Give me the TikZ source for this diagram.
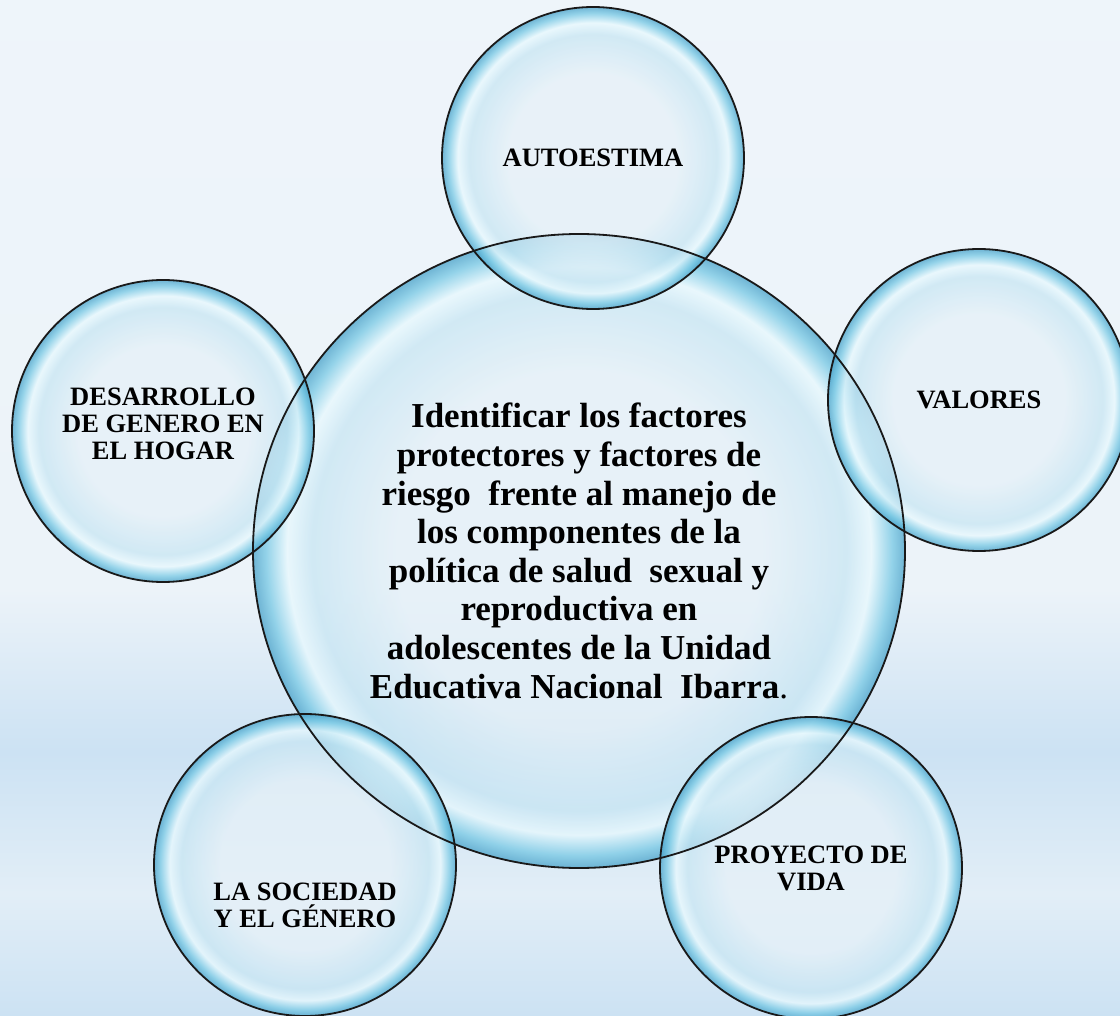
\documentclass[tikz,border=0pt]{standalone}
\usepackage{fontspec}
\setmainfont{Liberation Serif}
\usetikzlibrary{shapes.geometric}

\definecolor{bgtop}{RGB}{240,246,251}
\definecolor{bgup}{RGB}{236,243,249}
\definecolor{bgband}{RGB}{204,226,243}
\definecolor{bgmid}{RGB}{226,238,247}
\definecolor{bglow}{RGB}{234,242,249}
\definecolor{bgbot}{RGB}{242,247,251}
\definecolor{bubcore}{RGB}{230,241,248}
\definecolor{bubsoft}{RGB}{200,230,243}
\definecolor{bubhi}{RGB}{232,249,254}
\definecolor{bubrim}{RGB}{118,200,228}
\definecolor{bubedge}{RGB}{70,160,200}

\pgfdeclareverticalshading{backdrop}{100bp}{color(0bp)=(bgbot); color(19bp)=(bglow);
  color(25bp)=(bgband); color(31bp)=(bgmid); color(38bp)=(bgband); color(46bp)=(bgup);
  color(100bp)=(bgtop)}
% rim of the circle sits at 25bp of the shading
\pgfdeclareradialshading{bubble}{\pgfpointorigin}{color(0bp)=(bubcore); color(14bp)=(bubcore);
  color(20.5bp)=(bubsoft); color(22.4bp)=(bubhi); color(24bp)=(bubrim); color(25bp)=(bubedge);
  color(50bp)=(bubedge)}

\tikzset{
  bubblenode/.style={circle, shade, shading=bubble, fill opacity=.75,
    inner sep=0pt, minimum size=302pt},
  tag/.style={align=center, font=\fontsize{26.5}{27}\selectfont\bfseries},
  rim/.style={draw=black!90, line width=1.8pt}
}

\begin{document}
\begin{tikzpicture}[x=1pt,y=-1pt]
	\useasboundingbox (0,0) rectangle (1120,1016);
	% background
	\shade[shading=backdrop] (0,0) rectangle (1120,1016);

	% bubbles
	\node[ellipse, shade, shading=bubble, fill opacity=.75, inner sep=0pt,
	  minimum width=652pt, minimum height=634pt] (goal) at (579,551) {};
	\node[bubblenode] (auto) at (593,158) {};
	\node[bubblenode] (valores) at (979,400) {};
	\node[bubblenode] (hogar) at (163,431) {};
	\node[bubblenode] (sociedad) at (305,865) {};
	\node[bubblenode] (vida) at (811,868) {};

	% rims on top
	\draw[rim] (goal.center) ellipse (326pt and 317pt);
	\foreach \n in {auto,valores,hogar,sociedad,vida}
		\draw[rim] (\n.center) circle (151pt);

	% texts
	\node[align=center, font=\fontsize{35}{38.6}\selectfont\bfseries] (goal-t) at (goal)
	  {Identificar los factores\\
	   protectores y factores de\\
	   riesgo~ frente al manejo de\\
	   los componentes de la\\
	   política de salud~ sexual y\\
	   reproductiva en\\
	   adolescentes de la Unidad\\
	   Educativa Nacional~ Ibarra{\mdseries.}};
	\node[tag] (auto-t) at (auto) {AUTOESTIMA};
	\node[tag] (valores-t) at (valores) {VALORES};
	\node[tag] (hogar-t) at ([yshift=7pt]hogar.center) {DESARROLLO\\DE GENERO EN\\EL HOGAR};
	\node[tag] (sociedad-t) at ([yshift=-40pt]sociedad.center) {LA SOCIEDAD\\Y EL GÉNERO};
	\node[tag] (vida-t) at (vida) {PROYECTO DE\\VIDA};
\end{tikzpicture}
\end{document}
